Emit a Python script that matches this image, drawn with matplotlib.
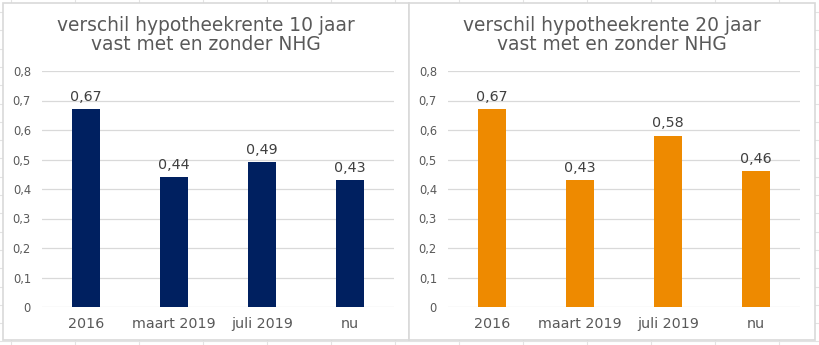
from matplotlib import pyplot as plt
from matplotlib.lines import Line2D
from matplotlib.patches import Rectangle
import numpy as np

categories = ["2016", "maart 2019", "juli 2019", "nu"]
verschil_10 = [0.67, 0.44, 0.49, 0.43]
verschil_20 = [0.67, 0.43, 0.58, 0.46]
yticks = [0, 0.1, 0.2, 0.3, 0.4, 0.5, 0.6, 0.7, 0.8]

W, H = 819, 345
TEXT = "#595959"
GRID = "#d9d9d9"


def comma(v, digits):
    if v == 0:
        return "0"
    return f"{v:.{digits}f}".replace(".", ",")


def px(x0, y0, x1, y1):
    """Pixel box (top-down) -> figure rect"""
    return [x0 / W, 1 - y1 / H, (x1 - x0) / W, (y1 - y0) / H]


def bar_chart(ax, values, color, title, box):
    x = np.arange(len(categories))
    ax.bar(x, values, width=0.32, color=color, zorder=3)
    for xi, v in zip(x, values):
        ax.annotate(comma(v, 2), (xi, v), xytext=(0, 4), textcoords="offset points",
                    ha="center", va="bottom", fontsize=10.3, color="#404040")
    ax.set_xlim(-0.5, len(categories) - 0.5)
    ax.set_ylim(0, 0.8)
    ax.set_yticks(yticks)
    ax.set_yticklabels([comma(t, 1) for t in yticks])
    ax.set_xticks(x)
    ax.set_xticklabels(categories)
    ax.tick_params(axis="y", length=0, pad=8, labelsize=8.3, labelcolor=TEXT)
    ax.tick_params(axis="x", length=0, pad=7, labelsize=10.3, labelcolor=TEXT)
    ax.grid(axis="y", color=GRID, linewidth=0.9, zorder=0)
    for s in ax.spines.values():
        s.set_visible(False)
    ax.set_facecolor("none")
    cx = (box[0] + box[2]) / 2
    fig.text(cx / W, 1 - 35 / H, title, ha="center", va="center",
             fontsize=13.4, color=TEXT, linespacing=1.05)


fig = plt.figure(figsize=(W / 100, H / 100), dpi=100)
fig.patch.set_facecolor("white")

# spreadsheet cells behind the charts
for cx in np.arange(11, W, 64):
    fig.add_artist(Line2D([cx / W, cx / W], [0, 1], color="#e3e3e3", lw=0.8, zorder=0))
for ry in np.arange(12, H, 18.3):
    fig.add_artist(Line2D([0, 1], [1 - ry / H, 1 - ry / H], color="#e3e3e3", lw=0.8, zorder=0))

box_left = (3, 3, 409, 340)
box_right = (409, 3, 815, 340)
for b in (box_left, box_right):
    r = px(*b)
    fig.add_artist(Rectangle((r[0], r[1]), r[2], r[3], transform=fig.transFigure,
                             facecolor="white", edgecolor=GRID, lw=1.2, zorder=1))

ax1 = fig.add_axes(px(42, 71, 394, 307))
ax2 = fig.add_axes(px(448, 71, 800, 307))
for a in (ax1, ax2):
    a.set_zorder(2)

bar_chart(ax1, verschil_10, "#002060",
          "verschil hypotheekrente 10 jaar\nvast met en zonder NHG", box_left)
bar_chart(ax2, verschil_20, "#EE8A00",
          "verschil hypotheekrente 20 jaar\nvast met en zonder NHG", box_right)

fig.savefig("out.png", dpi=100)
